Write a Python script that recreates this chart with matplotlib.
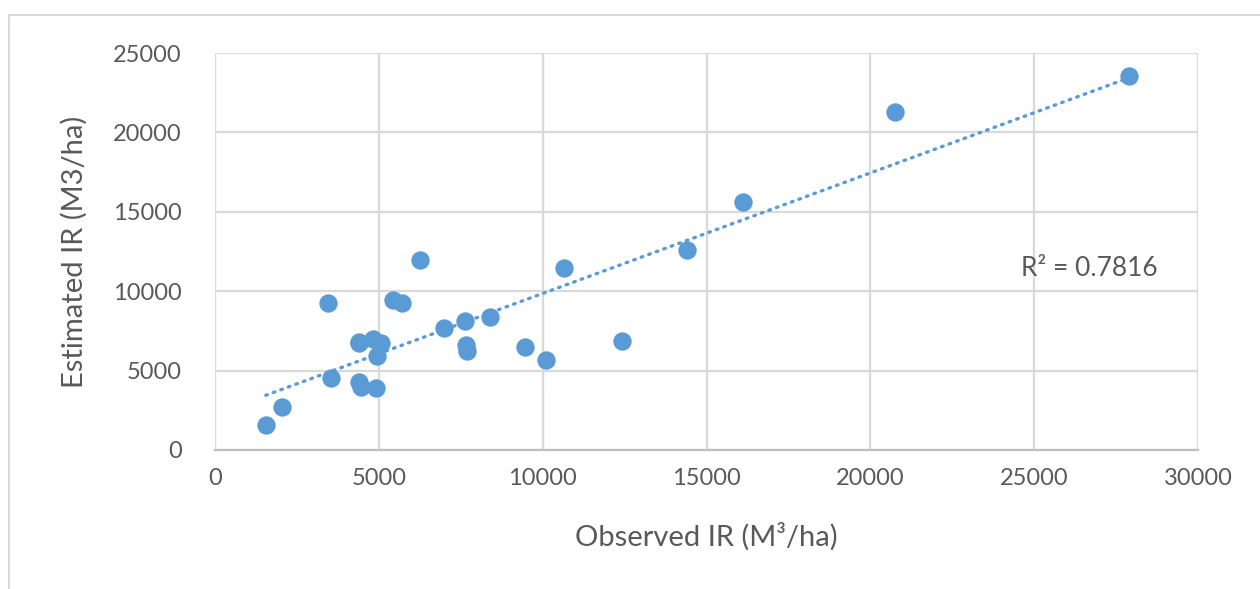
import numpy as np
import matplotlib
matplotlib.use("Agg")
import matplotlib.pyplot as plt
from matplotlib.patches import Rectangle

observed = [1550, 2050, 3450, 3550, 4400, 4400, 4450, 4900, 4380, 4810, 5080, 4930,
            5420, 5720, 6270, 7000, 7620, 7670, 7700, 8400, 9460, 10100, 10650,
            12420, 14420, 16120, 20760, 27900]
estimated = [1600, 2700, 9250, 4550, 6750, 4300, 3950, 3900, 6800, 6990, 6740, 5950,
             9450, 9260, 11970, 7680, 8100, 6600, 6250, 8400, 6490, 5650, 11460,
             6860, 12600, 15620, 21300, 23550]
r2_text = "R² = 0.7816"
x_ticks = [0, 5000, 10000, 15000, 20000, 25000, 30000]
y_ticks = [0, 5000, 10000, 15000, 20000, 25000]

blue = "#5B9BD5"
grey_text = "#595959"
grid_col = "#D9D9D9"

plt.rcParams['font.family'] = ['Lato', 'DejaVu Sans']

fig = plt.figure(figsize=(12.6, 5.89), dpi=100)
fig.patches.append(Rectangle((9/1260, -0.1), 1.2, 1 - 15/589 + 0.1, transform=fig.transFigure,
                             fill=False, edgecolor=grid_col, linewidth=1.5, zorder=0))
ax = fig.add_axes([215/1260, 1 - 450/589, (1198 - 215)/1260, (450 - 53)/589])

ax.scatter(observed, estimated, s=175, color=blue, zorder=3, linewidths=0)

x = np.array(observed, dtype=float)
y = np.array(estimated, dtype=float)
m, b = np.polyfit(x, y, 1)
xs = np.array([x.min(), x.max()])
ax.plot(xs, m * xs + b, color=blue, linewidth=2.4, linestyle=(0, (0.5, 1.9)),
        dash_capstyle='round', zorder=2)

ax.set_xlim(0, 30000)
ax.set_ylim(0, 25000)
ax.set_xticks(x_ticks)
ax.set_yticks(y_ticks)
ax.grid(True, color=grid_col, linewidth=1.6, zorder=0)
ax.set_axisbelow(True)
for s in ['top', 'right', 'left']:
    ax.spines[s].set_visible(False)
ax.spines['bottom'].set_color('#BFBFBF')
ax.spines['bottom'].set_linewidth(1.6)
ax.tick_params(length=0, labelsize=17, colors=grey_text, pad=13)
ax.tick_params(axis='y', pad=24)

ax.set_xlabel("Observed IR (M³/ha)", fontsize=21, color=grey_text, labelpad=24)
ax.set_ylabel("Estimated IR (M3/ha)", fontsize=21, color=grey_text, labelpad=18)
ax.text(24590, 11460, r2_text, fontsize=19, color=grey_text, va='center', ha='left')

fig.savefig("out.png", dpi=100)
